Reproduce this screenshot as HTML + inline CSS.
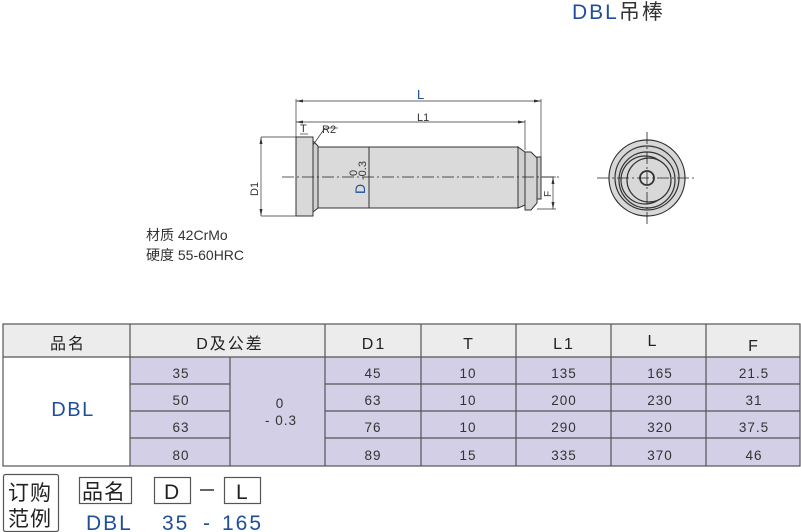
<!DOCTYPE html>
<html><head><meta charset="utf-8"><style>
html,body{margin:0;padding:0;background:#fff;}
svg{display:block;font-family:"Liberation Sans","Noto Sans CJK SC",sans-serif;}
</style></head><body>
<svg width="801" height="532" viewBox="0 0 801 532" xmlns="http://www.w3.org/2000/svg">
<text x="572" y="19" font-size="21" letter-spacing="2" fill="#1f4e9a">DBL<tspan fill="#333">吊棒</tspan></text>

<g stroke="#333" stroke-width="1">
<line x1="296" y1="99" x2="296" y2="137" stroke-width="0.7"/>
<line x1="541" y1="99" x2="541" y2="157" stroke-width="0.7"/>
<line x1="525" y1="120" x2="525" y2="150" stroke-width="0.7"/>
<line x1="296" y1="101" x2="541" y2="101" stroke-width="0.7"/>
<line x1="296" y1="122" x2="525" y2="122" stroke-width="0.7"/>
<line x1="261" y1="137" x2="296" y2="137" stroke-width="0.7"/>
<line x1="261" y1="216" x2="296" y2="216" stroke-width="0.7"/>
<line x1="261" y1="137" x2="261" y2="216" stroke-width="0.7"/>
<line x1="537" y1="209" x2="556" y2="209" stroke-width="0.7"/>
<line x1="553" y1="177" x2="553" y2="209" stroke-width="0.7"/>
<line x1="541" y1="177" x2="556" y2="177" stroke-width="0.7"/>
<rect x="296" y="137" width="17" height="79" fill="#d9d9d9"/>
<polygon points="313,141 318,146 318,208 313,212" fill="#d0d0d0"/>
<rect x="318" y="147" width="200" height="61" fill="#dadada"/>
<line x1="369" y1="147" x2="369" y2="208"/>
<polygon points="518,147 525,152 525,205 518,208" fill="#d0d0d0"/>
<polygon points="525,152 531,152 537,158 537,203 531,210 525,210" fill="#d3d3d3"/>
<rect x="537" y="157" width="4" height="42" fill="#ccc"/>
<line x1="300" y1="134" x2="308" y2="134" stroke-width="0.7"/>
<line x1="313" y1="145" x2="325" y2="128" stroke-width="0.7"/>
<line x1="325" y1="128" x2="338" y2="128" stroke-width="0.7"/>
</g>
<g fill="#333">
<polygon points="296,101 303,99.5 303,102.5"/><polygon points="541,101 534,99.5 534,102.5"/>
<polygon points="296,122 303,120.5 303,123.5"/><polygon points="525,122 518,120.5 518,123.5"/>
<polygon points="261,137 259.5,144 262.5,144"/><polygon points="261,216 259.5,209 262.5,209"/>
<polygon points="553,177 551.5,184 554.5,184"/><polygon points="553,209 551.5,202 554.5,202"/>
</g>
<line x1="282" y1="177" x2="560" y2="177" stroke="#222" stroke-width="0.8" stroke-dasharray="12,3,2,3"/>
<g font-size="11" fill="#333">
<text x="417" y="99" font-size="13" fill="#1f4e9a">L</text>
<text x="417" y="121">L1</text>
<text x="300" y="132">T</text>
<text x="322" y="133">R2</text>
<text transform="translate(258,196) rotate(-90)">D1</text>
<text transform="translate(551,197) rotate(-90)" font-size="10">F</text>
<text transform="translate(365,194) rotate(-90)" font-size="14" fill="#1f4e9a">D</text>
<text transform="translate(357,176) rotate(-90)" font-size="11">0</text>
<text transform="translate(366,180) rotate(-90)" font-size="11">-0.3</text>
</g>

<g stroke="#333" stroke-width="1.2" fill="#d8d8d8">
<circle cx="647" cy="178" r="38"/>
<circle cx="647" cy="178" r="32" fill="#d3d3d3"/>
<circle cx="647" cy="180" r="28"/>
<circle cx="645" cy="180" r="24"/>
<circle cx="649" cy="180" r="22"/>
<circle cx="647" cy="178" r="7" stroke-width="1.8" fill="#e0e0e0"/>
</g>
<line x1="597" y1="178" x2="697" y2="178" stroke="#222" stroke-width="0.8" stroke-dasharray="12,3,2,3"/>
<line x1="647" y1="132" x2="647" y2="226" stroke="#222" stroke-width="0.8" stroke-dasharray="12,3,2,3"/>

<text x="146" y="240" font-size="14" fill="#333">材质 42CrMo</text>
<text x="146" y="260" font-size="14" fill="#333">硬度 55-60HRC</text>

<rect x="3" y="324" width="797" height="33" fill="#ececec"/>
<rect x="130" y="357" width="670" height="109" fill="#d3cfe6"/>
<g stroke="#555" stroke-width="1.2" fill="none">
<rect x="3" y="324" width="797" height="142"/>
<line x1="3" y1="357" x2="800" y2="357"/>
<line x1="130" y1="324" x2="130" y2="466"/>
<line x1="230" y1="357" x2="230" y2="466"/>
<line x1="325" y1="324" x2="325" y2="466"/>
<line x1="421" y1="324" x2="421" y2="466"/>
<line x1="516" y1="324" x2="516" y2="466"/>
<line x1="611" y1="324" x2="611" y2="466"/>
<line x1="706" y1="324" x2="706" y2="466"/>
<path d="M130 384H230M325 384H800M130 411H230M325 411H800M130 438H230M325 438H800"/>
</g>
<g font-size="16" fill="#222" text-anchor="middle" letter-spacing="2">
<text x="68" y="349">品名</text><text x="230" y="349">D及公差</text>
<text x="374" y="349">D1</text><text x="469" y="349">T</text><text x="564" y="349">L1</text>
<text x="653" y="346">L</text><text x="754" y="351">F</text>
</g>
<text x="73" y="416" font-size="20" letter-spacing="1.5" fill="#1f4e9a" text-anchor="middle">DBL</text>
<g font-size="13.5" fill="#333" text-anchor="middle" letter-spacing="1">
<text x="181" y="378">35</text><text x="181" y="405">50</text><text x="181" y="432">63</text><text x="181" y="460">80</text>
<text x="280" y="408">0</text><text x="281" y="425">- 0.3</text>
<text x="373" y="378">45</text><text x="373" y="405">63</text><text x="373" y="432">76</text><text x="373" y="460">89</text>
<text x="468" y="378">10</text><text x="468" y="405">10</text><text x="468" y="432">10</text><text x="468" y="460">15</text>
<text x="564" y="378">135</text><text x="564" y="405">200</text><text x="564" y="432">290</text><text x="564" y="460">335</text>
<text x="660" y="378">165</text><text x="660" y="405">230</text><text x="660" y="432">320</text><text x="660" y="460">370</text>
<text x="754" y="378">21.5</text><text x="754" y="405">31</text><text x="754" y="432">37.5</text><text x="754" y="460">46</text>
</g>

<g stroke="#555" stroke-width="1.2" fill="none">
<rect x="3.5" y="474.5" width="55" height="57" rx="2"/>
<rect x="79.5" y="477.5" width="52" height="26"/>
<rect x="154.5" y="477.5" width="36" height="26"/>
<rect x="224.5" y="477.5" width="36" height="26"/>
</g>
<line x1="200" y1="490" x2="214" y2="490" stroke="#333" stroke-width="1.5"/>
<g font-size="21" fill="#222">
<text x="8" y="500" letter-spacing="1">订购</text><text x="8" y="526" letter-spacing="1">范例</text>
<text x="82" y="499" letter-spacing="1">品名</text>
<text x="164" y="499">D</text><text x="236" y="499">L</text>
</g>
<text x="86" y="530" font-size="21" letter-spacing="2" fill="#1f4e9a">DBL</text>
<text x="162" y="530" font-size="21" letter-spacing="2" fill="#1f4e9a">35</text>
<text x="203" y="530" font-size="21" fill="#1f4e9a">-</text>
<text x="222" y="530" font-size="21" letter-spacing="2" fill="#1f4e9a">165</text>
</svg>
</body></html>
